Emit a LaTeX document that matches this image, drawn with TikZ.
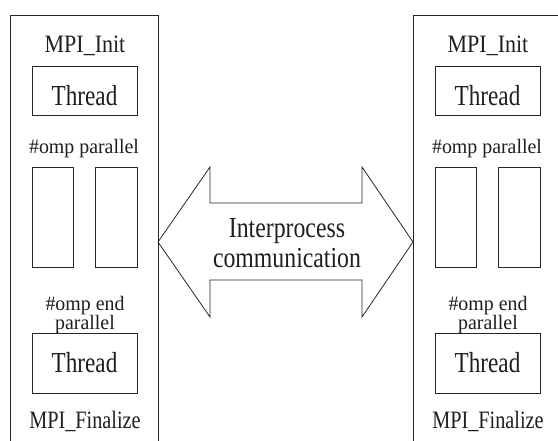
\documentclass[tikz,border=0pt]{standalone}
\usepackage{fontspec}
\setmainfont{Liberation Serif}
% narrow a label horizontally by a given factor
\newcommand{\narrow}[2]{\scalebox{#1}[1]{#2}}
\begin{document}
\begin{tikzpicture}[x=1pt,y=-1pt,
  line/.style={draw=black!85,line width=0.8pt},
  txt/.style={text=black!88,inner sep=0pt,anchor=base},
  bigtxt/.style={txt,font=\fontsize{29}{30}\selectfont},
  midtxt/.style={txt,font=\fontsize{25}{26}\selectfont},
  smalltxt/.style={txt,font=\fontsize{20.5}{20}\selectfont},
  frame/.style={line,fill=white,anchor=north west}]
\useasboundingbox (0,0) rectangle (558,440);
\clip (0,0) rectangle (558,440);
\fill[white] (0,0) rectangle (558,440);
% two process panels, open at the bottom of the page
\foreach \px/\nm in {10/L,413/R}{
  \begin{scope}[shift={(\px,0)}]
    \draw[line] (0,460) -- (0,15) -- (148,15) -- (148,460);
    \node[midtxt] (init\nm) at (75,52) {\narrow{0.88}{MPI\_Init}};
    \node[frame,minimum width=105pt,minimum height=49pt] (th1\nm) at (22,66) {};
    \node[bigtxt] (th1t\nm) at (74.5,105) {\narrow{0.8}{Thread}};
    \node[smalltxt] (par\nm) at (74,153) {\narrow{0.97}{\#omp parallel}};
    \node[frame,minimum width=41pt,minimum height=100pt] (ta\nm) at (22,167) {};
    \node[frame,minimum width=42pt,minimum height=100pt] (tb\nm) at (85,167) {};
    \node[smalltxt] (end\nm) at (75,310) {\narrow{0.97}{\#omp end}};
    \node[smalltxt] (endb\nm) at (75,329) {\narrow{0.97}{parallel}};
    \node[frame,minimum width=105pt,minimum height=60pt] (th2\nm) at (22,333) {};
    \node[bigtxt] (th2t\nm) at (74.5,372) {\narrow{0.8}{Thread}};
    \node[midtxt] (fin\nm) at (75,428) {\narrow{0.81}{MPI\_Finalize}};
  \end{scope}
}
% interprocess double arrow between the panels
\coordinate (tipL) at (158,242);
\coordinate (tipR) at (413,242);
\draw[line,line join=miter]
  (tipL) -- (210,167) -- (210,203) -- (362,203) -- (362,167) -- (tipR)
  -- (362,317) -- (362,280) -- (210,280) -- (210,317) -- cycle;
\node[bigtxt] (ipc1) at (287,237) {\narrow{0.82}{Interprocess}};
\node[bigtxt] (ipc2) at (287,267) {\narrow{0.82}{communication}};
\end{tikzpicture}
\end{document}
